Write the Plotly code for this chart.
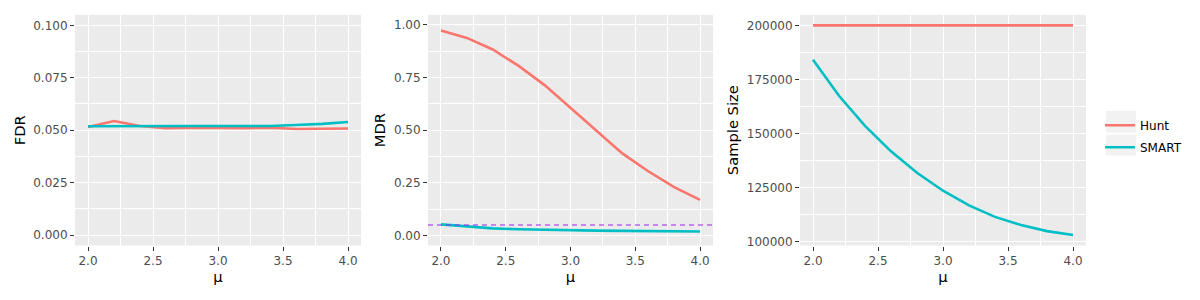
import plotly.graph_objects as go

# ---- data ----
mu = [2.0, 2.2, 2.4, 2.6, 2.8, 3.0, 3.2, 3.4, 3.6, 3.8, 4.0]
methods = ["Hunt", "SMART"]
colors = {"Hunt": "#F8766D", "SMART": "#00BFC4"}

fdr_hunt = [0.0515, 0.0544, 0.0520, 0.0509, 0.0512, 0.0510, 0.0510, 0.0512, 0.0506, 0.0507, 0.0508]
fdr_smart = [0.0519, 0.0520, 0.0520, 0.0520, 0.0520, 0.0520, 0.0520, 0.0520, 0.0525, 0.0530, 0.0539]

mdr_hunt = [0.973, 0.938, 0.883, 0.805, 0.714, 0.606, 0.495, 0.390, 0.305, 0.230, 0.169]
mdr_smart = [0.053, 0.042, 0.034, 0.030, 0.027, 0.025, 0.0235, 0.022, 0.021, 0.021, 0.019]

ss_hunt = [200000] * 11
ss_smart = [184100, 167400, 153500, 141700, 131800, 123500, 116700, 111400, 107600, 104800, 103000]

mdr_ref = 0.05

fdr = {"Hunt": fdr_hunt, "SMART": fdr_smart}
mdr = {"Hunt": mdr_hunt, "SMART": mdr_smart}
ss = {"Hunt": ss_hunt, "SMART": ss_smart}

W, H = 1200, 300
FONT = "DejaVu Sans"
TICK_SIZE = 12
TITLE_SIZE = 14.7

fig = go.Figure()
for i, (data, xa, ya) in enumerate([(fdr, "x", "y"), (mdr, "x2", "y2"), (ss, "x3", "y3")]):
    for m in methods:
        fig.add_trace(go.Scatter(
            x=mu, y=data[m], mode="lines", name=m, legendgroup=m,
            showlegend=(i == 2), line=dict(color=colors[m], width=2.6),
            xaxis=xa, yaxis=ya,
        ))

fig.add_shape(type="line", xref="x2 domain", yref="y2", x0=0, x1=1, y0=mdr_ref, y1=mdr_ref,
              line=dict(color="#A020F0", width=1.2, dash="5px,4px"), layer="above")

# legend key backgrounds (ggplot-style grey key boxes)
for (y0, y1) in [(112, 134), (136, 157)]:
    fig.add_shape(type="rect", xref="paper", yref="paper",
                  x0=1106 / W, x1=1136 / W, y0=1 - y1 / H, y1=1 - y0 / H,
                  fillcolor="#F2F2F2", line=dict(width=0), layer="below")

def px_x(a, b):
    return [a / W, b / W]

ydom = [1 - 248 / H, 1 - 15 / H]

common_x = dict(
    range=[1.9, 4.1], dtick=0.5, tick0=2.0, tickformat=".1f",
    showgrid=True, gridcolor="white", gridwidth=1.1,
    minor=dict(showgrid=True, gridcolor="white", gridwidth=0.55, dtick=0.25, tick0=2.0),
    zeroline=False, showline=False, ticks="outside", ticklen=4, tickcolor="#333333", tickwidth=1,
    tickfont=dict(family=FONT, size=TICK_SIZE, color="#4D4D4D"),
    title=dict(text="μ", font=dict(family=FONT, size=TITLE_SIZE, color="black"), standoff=0),
)
common_y = dict(
    showgrid=True, gridcolor="white", gridwidth=1.1,
    zeroline=False, showline=False, ticks="outside", ticklen=4, tickcolor="#333333", tickwidth=1,
    tickfont=dict(family=FONT, size=TICK_SIZE, color="#4D4D4D"),
    domain=ydom,
)

def xax(dom, anchor):
    d = dict(common_x)
    d["domain"] = dom
    d["anchor"] = anchor
    return d

def yax(anchor, rng, dtick, fmt, minor_dtick, title, standoff):
    d = dict(common_y)
    d.update(range=rng, dtick=dtick, tick0=0, tickformat=fmt, anchor=anchor,
             minor=dict(showgrid=True, gridcolor="white", gridwidth=0.55, dtick=minor_dtick, tick0=0),
             title=dict(text=title, font=dict(family=FONT, size=TITLE_SIZE, color="black"), standoff=standoff))
    return d

fig.update_layout(
    width=W, height=H,
    margin=dict(l=0, r=0, t=0, b=0),
    paper_bgcolor="white", plot_bgcolor="#EBEBEB",
    font=dict(family=FONT),
    xaxis=xax(px_x(75, 361), "y"),
    xaxis2=xax(px_x(428, 713), "y2"),
    xaxis3=xax(px_x(800, 1086), "y3"),
    yaxis=yax("x", [-0.005, 0.105], 0.025, ".3f", 0.0125, "FDR", 4),
    yaxis2=yax("x2", [-0.0474, 1.0474], 0.25, ".2f", 0.125, "MDR", 4),
    yaxis3=yax("x3", [98150, 204850], 25000, "d", 12500, "Sample Size", 4),
    legend=dict(x=1100 / W, xanchor="left", y=0.541, yanchor="middle",
                font=dict(family=FONT, size=TICK_SIZE, color="black"),
                bgcolor="rgba(0,0,0,0)", tracegroupgap=3, itemwidth=30),
    showlegend=True,
)

fig.write_html("out.html", config={"displayModeBar": False},
               post_script="document.body.style.margin='0px';document.body.style.overflow='hidden';")
